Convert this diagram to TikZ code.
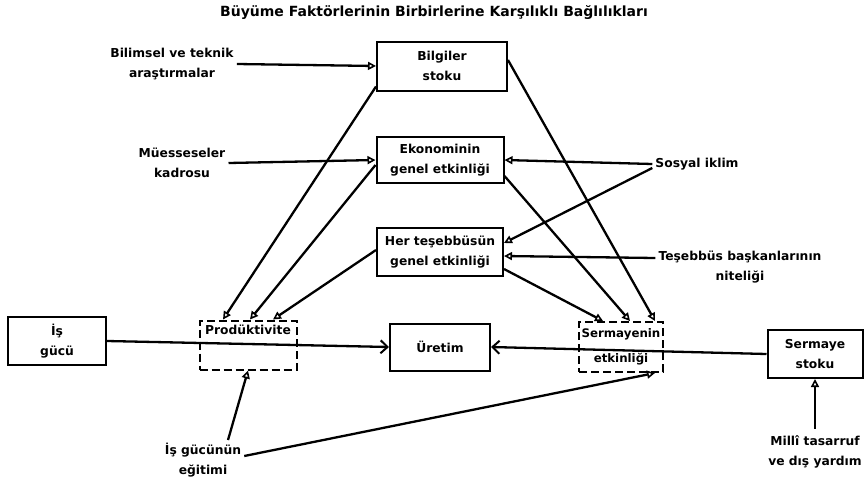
\documentclass[tikz,border=0pt]{standalone}
\usepackage{fontspec}
\setmainfont{DejaVu Sans}
\usetikzlibrary{arrows.meta}
\newcommand\lbfont{\fontsize{12.3}{19.5}\selectfont\bfseries}
\newcommand\smfont{\fontsize{11.8}{19.5}\selectfont\bfseries}
\newcommand\ttlfont{\fontsize{14}{16}\selectfont\bfseries}
\tikzset{
  box/.style={draw, line width=2pt, align=center, inner sep=0pt, font=\lbfont},
  dbox/.style={draw, line width=2pt, dash pattern=on 8pt off 4pt, inner sep=0pt},
  lbl/.style={align=center, font=\lbfont, inner sep=3pt},
  conn/.style={line width=2.3pt, -{Triangle[open,length=8pt,width=8pt,line width=1.6pt]}},
  bigarr/.style={line width=2.3pt, -{Straight Barb[length=7pt,width=13pt,line width=2pt]}}
}
\begin{document}
\begin{tikzpicture}[x=1pt,y=-1pt]
\useasboundingbox (0,0) rectangle (864,482);
\node[lbl, font=\ttlfont] (title) at (434,13) {Büyüme Faktörlerinin Birbirlerine Karşılıklı Bağlılıkları};

\node[box, minimum width=130pt, minimum height=49pt] (bilgi) at (442,66) {Bilgiler\\stoku};
\node[box, minimum width=127pt, minimum height=46pt] (ekon) at (440,160) {Ekonominin\\genel etkinliği};
\node[box, minimum width=126pt, minimum height=48pt] (her) at (440,252) {Her teşebbüsün\\genel etkinliği};
\node[box, minimum width=98pt, minimum height=48pt] (isg) at (57,341) {İş\\gücü};
\node[box, minimum width=100pt, minimum height=47pt] (uret) at (440,347) {Üretim};
\node[dbox, minimum width=97pt, minimum height=49pt] (prod) at (248,345) {};
\node[lbl] (prodt) at (248,330) {Prodüktivite};
\node[dbox, minimum width=84pt, minimum height=50pt] (serm) at (621,347) {};
\node[lbl, font=\smfont] (sermt1) at (621,334) {Sermayenin};
\node[lbl, font=\smfont] (sermt2) at (621,359) {etkinliği};
\node[box, minimum width=95pt, minimum height=48pt] (sst) at (815,354) {Sermaye\\stoku};

\node[lbl] (biltek) at (172,64) {Bilimsel ve teknik\\araştırmalar};
\node[lbl] (mues) at (182,163) {Müesseseler\\kadrosu};
\node[lbl] (sos) at (697,164) {Sosyal iklim};
\node[lbl] (tesb) at (740,267) {Teşebbüs başkanlarının\\niteliği};
\node[lbl] (egit) at (203,460) {İş gücünün\\eğitimi};
\node[lbl] (milli) at (815,452) {Millî tasarruf\\ve dış yardım};

\draw[conn] (biltek.east) -- (bilgi.west);
\draw[conn] (mues.east) -- (ekon.west);
\draw[conn] (sos.west) -- (ekon.east);
\draw[conn] ([yshift=-4pt]sos.west) -- ([yshift=9pt]her.east);
\draw[conn] ([yshift=9pt]tesb.west) -- ([yshift=-4pt]her.east);

\draw[conn] ([yshift=5pt]bilgi.south west) -- ([xshift=-25pt]prod.north);
\draw[conn] ([yshift=-5pt]ekon.west) -- ([xshift=2pt]prod.north);
\draw[conn] ([yshift=2pt]her.west) -- ([xshift=25pt]prod.north);

\draw[conn] ([yshift=8pt]her.south east) -- ([xshift=-18pt]serm.north);
\draw[conn] ([yshift=8pt]ekon.south east) -- ([xshift=9pt]serm.north);
\draw[conn] ([yshift=6pt]bilgi.east) -- ([xshift=34pt]serm.north);

\draw[conn] ([xshift=25pt]egit.north) -- (prod.south);
\draw[conn] ([yshift=4pt]egit.east) -- ([xshift=34pt]serm.south);
\draw[conn] ([yshift=4pt]milli.north) -- (sst.south);

\draw[bigarr] (isg.east) -- (uret.west);
\draw[bigarr] (sst.west) -- (uret.east);
\end{tikzpicture}
\end{document}
